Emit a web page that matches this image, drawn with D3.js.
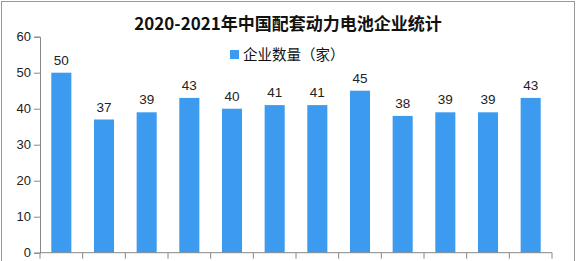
<!DOCTYPE html>
<html>
<head>
<meta charset="utf-8">
<script src="https://cdn.jsdelivr.net/npm/d3@7"></script>
<style>
  body { margin: 0; background: #fff; }
  svg { display: block; }
</style>
</head>
<body>
<svg id="chart"></svg>
<script>
// data (the x labels lie below the cropped picture)
const categories = ["2020.10", "2020.11", "2020.12", "2021.01", "2021.02", "2021.03",
                    "2021.04", "2021.05", "2021.06", "2021.07", "2021.08", "2021.09"];
const counts = [50, 37, 39, 43, 40, 41, 41, 45, 38, 39, 39, 43];
const yTicks = [0, 10, 20, 30, 40, 50, 60];
const title = "2020-2021年中国配套动力电池企业统计";
const seriesName = "企业数量（家）";

const width = 576;
const height = 261;
const margin = {top: 36.7, right: 24, bottom: 8.3, left: 40};
const barColor = "#3d9bef";
const axisColor = "#888";

const svg = d3.select("svg#chart")
    .attr("width", width)
    .attr("height", height)
    .attr("viewBox", [0, 0, width, height]);

// outer frame
svg.append("rect")
    .attr("x", 1.5).attr("y", 1.5)
    .attr("width", width - 3).attr("height", height + 10)
    .attr("fill", "none")
    .attr("stroke", "#999")
    .attr("stroke-width", 1);

const x = d3.scaleBand()
    .domain(categories)
    .range([margin.left, width - margin.right])
    .paddingInner(0.53)
    .paddingOuter(0.265);

const y = d3.scaleLinear()
    .domain([0, 60])
    .range([height - margin.bottom, margin.top]);

// bars
svg.append("g")
    .attr("fill", barColor)
    .selectAll("rect")
    .data(counts)
    .join("rect")
    .attr("x", (d, i) => x(categories[i]))
    .attr("y", d => y(d))
    .attr("width", x.bandwidth())
    .attr("height", d => y(0) - y(d));

// value labels
svg.append("g")
    .attr("font-family", "Liberation Sans, Arial, sans-serif")
    .attr("font-size", 13.5)
    .attr("fill", "#222")
    .attr("text-anchor", "middle")
    .selectAll("text")
    .data(counts)
    .join("text")
    .attr("x", (d, i) => x(categories[i]) + x.bandwidth() / 2)
    .attr("y", d => y(d) - 8)
    .text(d => d);

// y axis
const yAxis = svg.append("g")
    .attr("transform", `translate(${margin.left},0)`)
    .call(d3.axisLeft(y).tickValues(yTicks).tickSize(6).tickPadding(3));
yAxis.select(".domain").attr("stroke", axisColor);
yAxis.selectAll(".tick line").attr("stroke", axisColor);
yAxis.selectAll(".tick text")
    .attr("font-family", "Liberation Sans, Arial, sans-serif")
    .attr("font-size", 13)
    .attr("fill", "#222");

// x axis: ticks on band boundaries, labels fall outside the cropped view
const xAxisG = svg.append("g")
    .attr("transform", `translate(0,${y(0)})`);
xAxisG.append("line")
    .attr("x1", margin.left).attr("x2", width - margin.right)
    .attr("stroke", axisColor);
const bounds = categories.map(c => x(c) - x.step() * x.paddingInner() / 2)
    .concat([width - margin.right]);
xAxisG.selectAll("line.tick")
    .data(bounds)
    .join("line")
    .attr("class", "tick")
    .attr("x1", d => d).attr("x2", d => d)
    .attr("y1", 0).attr("y2", 6)
    .attr("stroke", axisColor);

// title
svg.append("text")
    .attr("x", 288)
    .attr("y", 30)
    .attr("text-anchor", "middle")
    .attr("font-family", "Noto Sans CJK SC, sans-serif")
    .attr("font-weight", "bold")
    .attr("font-size", 17)
    .attr("fill", "#111")
    .text(title);

// legend
const legend = svg.append("g").attr("transform", "translate(230,50)");
legend.append("rect")
    .attr("width", 9).attr("height", 9)
    .attr("fill", barColor);
legend.append("text")
    .attr("x", 13)
    .attr("y", 9.5)
    .attr("font-family", "Noto Sans CJK SC, sans-serif")
    .attr("font-size", 14.5)
    .attr("fill", "#111")
    .text(seriesName);
</script>
</body>
</html>
